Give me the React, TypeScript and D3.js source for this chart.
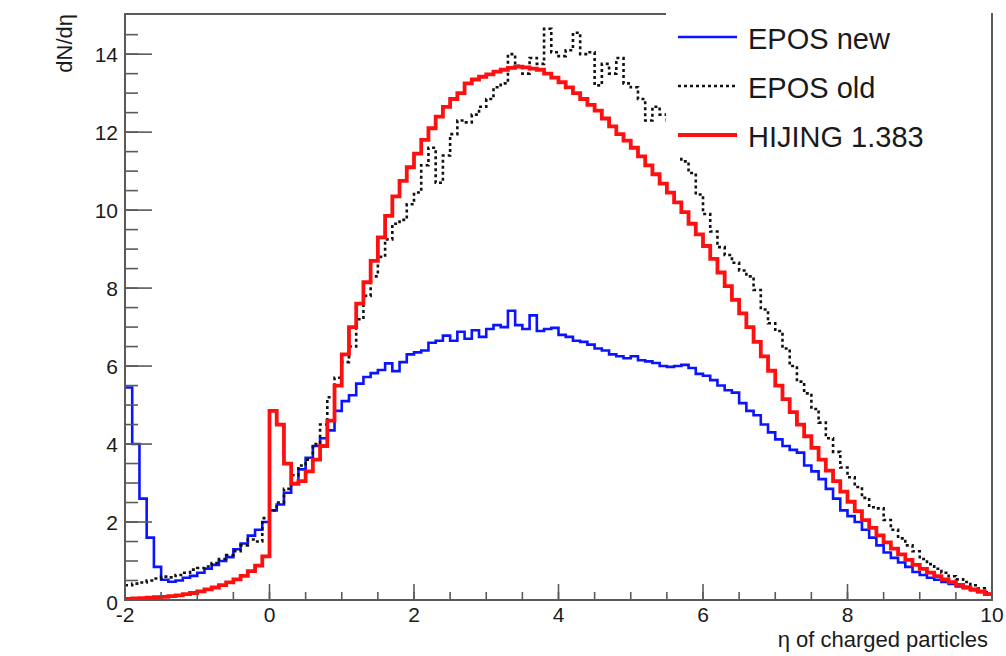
import React from 'react'
import * as d3 from 'd3'

// histogram binning: 120 bins of 0.1 from eta = -2
const etaMin = -2
const etaMax = 10
const binWidth = 0.1

const eposNew = [
  5.45, 4.0, 2.6, 1.6, 0.85, 0.52, 0.47, 0.5, 0.57, 0.62,
  0.7, 0.8, 0.9, 1.0, 1.1, 1.3, 1.45, 1.65, 1.8, 2.0,
  2.3, 2.45, 2.75, 3.0, 3.35, 3.65, 3.95, 4.15, 4.35, 4.85,
  5.1, 5.25, 5.55, 5.72, 5.82, 5.9, 6.07, 5.87, 6.1, 6.3,
  6.35, 6.4, 6.6, 6.65, 6.78, 6.65, 6.88, 6.7, 6.92, 6.75,
  6.95, 7.05, 7.0, 7.42, 7.05, 6.95, 7.3, 6.9, 6.95, 6.98,
  6.8, 6.75, 6.65, 6.62, 6.55, 6.45, 6.4, 6.3, 6.25, 6.2,
  6.25, 6.15, 6.12, 6.08, 6.0, 5.98, 6.0, 6.03, 5.95, 5.8,
  5.75, 5.64, 5.5, 5.38, 5.32, 5.05, 4.85, 4.74, 4.5, 4.3,
  4.12, 3.95, 3.85, 3.78, 3.45, 3.3, 3.1, 2.85, 2.6, 2.3,
  2.15, 2.0, 1.8, 1.6, 1.4, 1.22, 1.08, 0.96, 0.85, 0.72,
  0.64, 0.57, 0.52, 0.46, 0.41, 0.35, 0.3, 0.25, 0.2, 0.16,
]

const eposOld = [
  0.38, 0.42, 0.45, 0.5, 0.55, 0.6, 0.58, 0.64, 0.7, 0.78,
  0.82, 0.86, 0.95, 1.05, 1.15, 1.25, 1.4, 1.55, 1.5, 2.1,
  2.3, 2.5, 2.85, 3.2, 3.45, 3.6, 4.0, 4.5, 5.2, 5.7,
  6.1, 6.5, 7.2, 7.8, 8.3, 8.8, 9.25, 9.65, 9.75, 10.15,
  10.45, 11.15, 11.6, 10.7, 11.4, 11.95, 12.3, 12.25, 12.45, 12.65,
  12.85, 13.15, 13.25, 14.0, 13.7, 13.5, 13.9, 13.75, 14.65, 14.05,
  13.95, 14.1, 14.55, 14.0, 14.05, 13.2, 13.75, 13.5, 13.9, 13.25,
  13.15, 12.85, 12.3, 12.65, 12.45, 12.3, 11.8, 11.25, 10.95, 10.4,
  9.9, 9.45, 9.05, 8.85, 8.65, 8.45, 8.3, 7.95, 7.45, 7.1,
  6.9, 6.45, 6.0, 5.6, 5.3, 4.9, 4.55, 4.15, 3.8, 3.4,
  3.15, 2.9, 2.62, 2.38, 2.35, 2.05, 1.8, 1.58, 1.4, 1.25,
  1.05, 0.92, 0.8, 0.7, 0.61, 0.53, 0.46, 0.38, 0.3, 0.2,
]

const hijing = [
  0.03, 0.04, 0.05, 0.06, 0.07, 0.08, 0.1, 0.12, 0.15, 0.18,
  0.22, 0.27, 0.32, 0.38, 0.45, 0.53, 0.62, 0.74, 0.88, 1.12,
  4.85, 4.5, 3.5, 2.98, 3.05, 3.3, 3.6, 3.95, 4.6, 5.5,
  6.3, 7.0, 7.6, 8.15, 8.7, 9.3, 9.85, 10.35, 10.75, 11.1,
  11.45, 11.8, 12.1, 12.4, 12.65, 12.85, 13.0, 13.25, 13.35, 13.42,
  13.48, 13.55, 13.6, 13.65, 13.68, 13.66, 13.63, 13.6, 13.5, 13.4,
  13.28, 13.15, 13.0, 12.85, 12.7, 12.55, 12.35, 12.15, 11.95, 11.78,
  11.6, 11.38, 11.15, 10.92, 10.68, 10.45, 10.2, 9.95, 9.65, 9.38,
  9.08, 8.75, 8.4, 8.05, 7.7, 7.35, 7.0, 6.62, 6.25, 5.88,
  5.5, 5.15, 4.82, 4.5, 4.2, 3.9, 3.6, 3.32, 3.05, 2.78,
  2.52, 2.28, 2.05, 1.85, 1.66, 1.48, 1.32, 1.17, 1.03, 0.9,
  0.8, 0.7, 0.61, 0.53, 0.46, 0.39, 0.33, 0.27, 0.22, 0.15,
]

const xMajorTicks = [-2, 0, 2, 4, 6, 8, 10]
const yMajorTicks = [0, 2, 4, 6, 8, 10, 12, 14]
const legendLabels = ['EPOS new', 'EPOS old', 'HIJING 1.383']

const series = [
  { name: legendLabels[0], values: eposNew, color: '#0a14ff', width: 2.6, dash: null },
  { name: legendLabels[1], values: eposOld, color: '#111', width: 2.6, dash: '3 3' },
  { name: legendLabels[2], values: hijing, color: '#ff1010', width: 3.8, dash: null },
]

const W = 1006
const H = 656
const margin = { top: 14, right: 14, bottom: 56, left: 125 }
const font = '"Liberation Sans", Arial, Helvetica, sans-serif'
const axisColor = '#5a5a5a'

const App = () => {
  const x = d3.scaleLinear().domain([etaMin, etaMax]).range([margin.left, W - margin.right])
  const y = d3.scaleLinear().domain([0, 15.03]).range([H - margin.bottom, margin.top])
  const [x0, x1] = x.range()
  const [yb, yt] = y.range()

  const xMinor = d3.range(etaMin, etaMax + 0.001, 0.5)
  const yMinor = d3.range(0, 14.51, 0.5)

  const line = d3.line<[number, number]>()
    .x(d => x(d[0]))
    .y(d => y(d[1]))
    .curve(d3.curveStepAfter)

  const toPoints = (vals: number[]): [number, number][] => {
    const pts: [number, number][] = vals.map((v, i) => [etaMin + i * binWidth, v])
    pts.push([etaMax, vals[vals.length - 1]])
    return pts
  }

  // legend box (white, no border) sits over the top right of the frame
  const legend = { x: 666, y: 0, w: 322, h: 155, row: 49, first: 37 }

  return (
    <svg width={W} height={H} style={{ position: 'absolute', left: 0, top: 0, background: '#fff' }}
      fontFamily={font}>
      <rect x={0} y={0} width={W} height={H} fill="#fff" />

      {/* histograms */}
      {series.map(s => (
        <path key={s.name} d={line(toPoints(s.values)) || ''} fill="none"
          stroke={s.color} strokeWidth={s.width} strokeDasharray={s.dash || undefined}
          strokeLinejoin="miter" />
      ))}

      {/* frame top */}
      <line x1={x0} x2={legend.x} y1={yt} y2={yt} stroke={axisColor} strokeWidth={2} />

      {/* legend */}
      <rect x={legend.x} y={legend.y} width={legend.w} height={legend.h} fill="#fff" />
      {series.map((s, i) => {
        const ly = legend.first + i * legend.row
        return (
          <g key={s.name}>
            <line x1={678} x2={737} y1={ly} y2={ly} stroke={s.color} strokeWidth={s.width}
              strokeDasharray={s.dash || undefined} />
            <text x={748} y={ly + 12} fontSize={29} fill="#1a1a1a">{s.name}</text>
          </g>
        )
      })}

      {/* frame right */}
      <line x1={x1} x2={x1} y1={yt - 1} y2={yb} stroke={axisColor} strokeWidth={2} />

      {/* y axis */}
      <line x1={x0} x2={x0} y1={yt - 1} y2={yb + 1} stroke={axisColor} strokeWidth={2} />
      {yMinor.map(v => (
        <line key={'ym' + v} x1={x0} x2={x0 + 13} y1={y(v)} y2={y(v)} stroke={axisColor} strokeWidth={1.6} />
      ))}
      {yMajorTicks.map(v => (
        <g key={'yM' + v}>
          <line x1={x0} x2={x0 + 27} y1={y(v)} y2={y(v)} stroke={axisColor} strokeWidth={1.6} />
          <text x={x0 - 7} y={y(v) + (v === 0 ? 10 : 7.5)} textAnchor="end" fontSize={21} fill="#1a1a1a">{v}</text>
        </g>
      ))}
      <text transform={`translate(72,${yt}) rotate(-90)`} textAnchor="end" fontSize={22} fill="#1a1a1a">dN/dη</text>

      {/* x axis */}
      <line x1={x0 - 1} x2={x1 + 1} y1={yb} y2={yb} stroke={axisColor} strokeWidth={2} />
      {xMinor.map(v => (
        <line key={'xm' + v} x1={x(v)} x2={x(v)} y1={yb} y2={yb - 8} stroke={axisColor} strokeWidth={1.6} />
      ))}
      {xMajorTicks.map(v => (
        <g key={'xM' + v}>
          <line x1={x(v)} x2={x(v)} y1={yb} y2={yb - 16} stroke={axisColor} strokeWidth={1.6} />
          <text x={x(v)} y={yb + 22} textAnchor="middle" fontSize={21} fill="#1a1a1a">{v}</text>
        </g>
      ))}
      <text x={988} y={647} textAnchor="end" fontSize={22} fill="#1a1a1a">η of charged particles</text>
    </svg>
  )
}

export default App
